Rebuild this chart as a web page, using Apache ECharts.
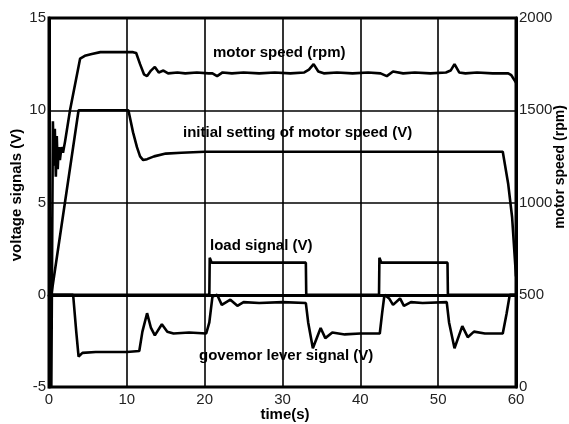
<!DOCTYPE html>
<html>
<head>
<meta charset="utf-8">
<script src="https://cdn.jsdelivr.net/npm/echarts@6/dist/echarts.min.js"></script>
<style>
html,body{margin:0;padding:0;background:#fff;}
#c{width:569px;height:424px;}
</style>
</head>
<body>
<div id="c"></div>
<script>
// ---- data (time in s) ----
const xTicks = [0, 10, 20, 30, 40, 50, 60];
const leftTicks = [-5, 0, 5, 10, 15];
const rightTicks = [0, 500, 1000, 1500, 2000];

// motor speed (rpm, right axis)
const motorT = [0, 0.3, 0.5, 0.62, 0.75, 0.88, 1.0, 1.12, 1.25, 1.4, 1.6, 1.8, 2.06, 2.7, 4.0, 4.6, 5.5, 6.6, 8, 9.5, 10.8, 11.2, 11.7, 12.2, 12.6, 13.1, 13.6, 14.1, 14.7, 15.3, 16.5, 17.5, 19, 20.5, 21.0, 21.6, 22.3, 23.5, 25, 27, 29, 31, 32.8, 33.4, 34.0, 34.6, 35.3, 37, 39, 41, 42.6, 43.4, 44.2, 45.5, 47, 49, 51.0, 51.6, 52.1, 52.7, 53.5, 55, 57, 59.0, 59.4, 60];
const motorRpm = [0, 0, 1440, 1200, 1400, 1140, 1360, 1180, 1300, 1230, 1300, 1270, 1330, 1500, 1780, 1795, 1805, 1815, 1815, 1815, 1815, 1810, 1750, 1695, 1685, 1715, 1735, 1705, 1715, 1700, 1705, 1700, 1705, 1700, 1700, 1685, 1705, 1700, 1705, 1700, 1705, 1700, 1705, 1720, 1750, 1710, 1700, 1705, 1700, 1705, 1700, 1685, 1710, 1700, 1705, 1700, 1705, 1715, 1750, 1705, 1700, 1705, 1700, 1700, 1690, 1650];

// initial setting of motor speed (V)
const settingT = [0, 0.3, 3.8, 10.2, 10.8, 11.3, 11.7, 12.1, 12.6, 13.5, 15, 17, 20, 25, 30, 35, 40, 45, 50, 55, 58.3, 59.0, 59.5, 60];
const settingV = [0, 0, 10, 10, 8.8, 8.0, 7.5, 7.3, 7.35, 7.5, 7.65, 7.7, 7.75, 7.75, 7.75, 7.75, 7.75, 7.75, 7.75, 7.75, 7.75, 6.0, 4.2, 1.0];

// load signal (V)
const loadT = [0, 20.6, 20.65, 20.9, 33.0, 33.05, 42.4, 42.45, 42.7, 51.2, 51.25, 60];
const loadV = [0, 0, 2.0, 1.74, 1.74, 0, 0, 2.0, 1.74, 1.74, 0, 0];

// governor lever signal (V)
const govT = [0, 3.1, 3.5, 3.8, 4.3, 6, 8, 10, 11.6, 12.0, 12.6, 13.1, 13.6, 14.5, 15.2, 16, 18, 20.2, 20.6, 21.0, 21.6, 22.2, 23.3, 24.2, 25, 27, 30, 33.0, 33.3, 33.9, 34.9, 35.5, 36.4, 38, 40, 42.5, 42.8, 43.1, 43.7, 44.2, 45.1, 45.6, 46.5, 48, 51.1, 51.4, 52.1, 53.1, 53.8, 54.6, 56, 58.3, 58.8, 59.2, 60];
const govV = [0, 0, -2.0, -3.35, -3.15, -3.1, -3.1, -3.1, -3.05, -2.0, -1.0, -1.8, -2.2, -1.6, -2.0, -2.1, -2.05, -2.1, -1.5, -0.1, 0.0, -0.55, -0.27, -0.6, -0.4, -0.45, -0.4, -0.45, -1.5, -2.9, -1.8, -2.35, -2.05, -2.15, -2.1, -2.1, -1.0, 0.0, -0.2, -0.55, -0.2, -0.6, -0.4, -0.45, -0.4, -1.5, -2.9, -1.7, -2.3, -2.0, -2.1, -2.1, -1.0, 0.0, 0.0];

const zip = (a, b) => a.map((v, i) => [v, b[i]]);

const chart = echarts.init(document.getElementById('c'), null, {renderer: 'canvas'});
const FONT = '"Liberation Sans", Arial, sans-serif';
const lineStyle = {color: '#000', width: 2.6};

chart.setOption({
  animation: false,
  backgroundColor: '#fff',
  grid: {left: 49, right: 53, top: 18, bottom: 37, show: true, borderColor: '#000', borderWidth: 3, backgroundColor: 'transparent'},
  xAxis: {
    type: 'value', min: xTicks[0], max: xTicks[xTicks.length - 1], interval: 10,
    axisLine: {show: true, lineStyle: {color: '#000', width: 3}},
    axisTick: {show: false},
    splitLine: {show: true, lineStyle: {color: '#000', width: 1.6}},
    axisLabel: {fontFamily: FONT, fontSize: 15, color: '#222', margin: 5, formatter: v => String(v)}
  },
  yAxis: [{
    type: 'value', min: leftTicks[0], max: leftTicks[leftTicks.length - 1], interval: 5,
    axisLine: {show: true, lineStyle: {color: '#000', width: 3}},
    axisTick: {show: false},
    splitLine: {show: true, lineStyle: {color: '#000', width: 1.6}},
    axisLabel: {fontFamily: FONT, fontSize: 15, color: '#222', margin: 3, formatter: v => String(v)}
  }, {
    type: 'value', min: rightTicks[0], max: rightTicks[rightTicks.length - 1], interval: 500,
    position: 'right',
    axisLine: {show: true, lineStyle: {color: '#000', width: 3}},
    axisTick: {show: false},
    splitLine: {show: false},
    axisLabel: {fontFamily: FONT, fontSize: 15, color: '#222', margin: 3, formatter: v => String(v)}
  }],
  series: [
    {name: 'motor speed (rpm)', type: 'line', yAxisIndex: 1, showSymbol: false, data: zip(motorT, motorRpm), lineStyle: lineStyle},
    {name: 'initial setting of motor speed (V)', type: 'line', yAxisIndex: 0, showSymbol: false, data: zip(settingT, settingV), lineStyle: lineStyle},
    {name: 'load signal (V)', type: 'line', yAxisIndex: 0, showSymbol: false, data: zip(loadT, loadV), lineStyle: lineStyle},
    {name: 'govemor lever signal (V)', type: 'line', yAxisIndex: 0, showSymbol: false, data: zip(govT, govV), lineStyle: lineStyle}
  ],
  graphic: [
    {type: 'text', left: 213, top: 45, style: {text: 'motor speed (rpm)', font: 'bold 15px ' + FONT, fill: '#000'}},
    {type: 'text', left: 183, top: 125, style: {text: 'initial setting of motor speed (V)', font: 'bold 15px ' + FONT, fill: '#000'}},
    {type: 'text', left: 210, top: 238, style: {text: 'load signal (V)', font: 'bold 15px ' + FONT, fill: '#000'}},
    {type: 'text', left: 199, top: 348, style: {text: 'govemor lever signal (V)', font: 'bold 15px ' + FONT, fill: '#000'}},
    {type: 'text', x: 285, y: 415, style: {text: 'time(s)', font: 'bold 15px ' + FONT, fill: '#000', textAlign: 'center', textVerticalAlign: 'middle'}},
    {type: 'text', x: 17, y: 195, rotation: Math.PI / 2, style: {text: 'voltage signals (V)', font: 'bold 15px ' + FONT, fill: '#000', textAlign: 'center', textVerticalAlign: 'middle'}},
    {type: 'text', x: 560, y: 167, rotation: Math.PI / 2, style: {text: 'motor speed (rpm)', font: 'bold 14px ' + FONT, fill: '#000', textAlign: 'center', textVerticalAlign: 'middle'}}
  ]
});
</script>
</body>
</html>
